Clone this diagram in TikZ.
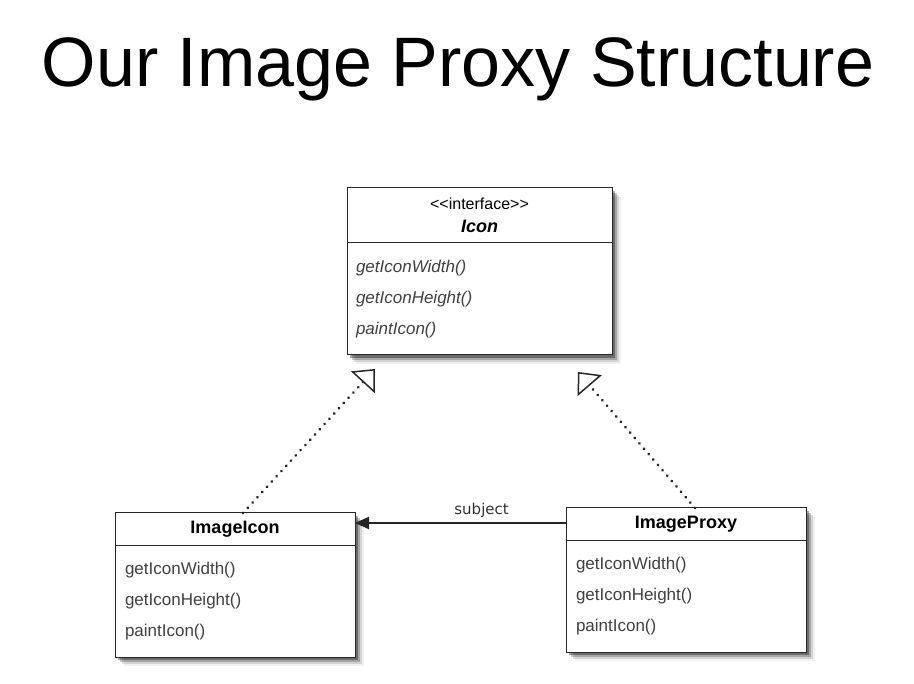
\documentclass[tikz,border=0pt]{standalone}
\usepackage{fontspec}
\setmainfont{Liberation Sans}
\newfontfamily\labelfont{DejaVu Sans}
\usetikzlibrary{positioning,arrows.meta,shadows}

\begin{document}
\begin{tikzpicture}[x=1pt,y=-1pt,
  every node/.style={font=\fontsize{17}{31}\selectfont},
  classhead/.style={draw=black!85,line width=1pt,fill=white,align=center,outer sep=0pt,inner sep=0pt,
    minimum width=240pt,minimum height=33pt,
    drop shadow={shadow xshift=9pt,shadow yshift=-9pt,fill=black,opacity=0.06},
    drop shadow={shadow xshift=7pt,shadow yshift=-7pt,fill=black,opacity=0.12},
    drop shadow={shadow xshift=5pt,shadow yshift=-5pt,fill=black,opacity=0.22},
    drop shadow={shadow xshift=3pt,shadow yshift=-3pt,fill=black,opacity=0.35}},
  classops/.style={classhead,align=left,text width=220pt,inner xsep=10pt,minimum height=111pt,text=black!75},
  assoc/.style={-{Triangle[length=14pt,width=12pt]},line width=2pt,black!85},
  realize/.style={-{Triangle[open,length=18pt,width=32pt,line width=1.5pt]},line width=3pt,
    dash pattern=on 0.1pt off 7pt,line cap=round,black!85}
]
  \useasboundingbox (0,0) rectangle (914,684);
  \node[anchor=base,font=\fontsize{70}{80}\selectfont] (title) at (458,87) {Our Image Proxy Structure};

  % the interface
  \node[classhead,minimum width=265pt,minimum height=55pt,font=\fontsize{16}{23}\selectfont] (icon) at (479.5,215.5)
    {<\kern0pt<interface>\kern0pt>\\ \bfseries\itshape\fontsize{18}{23}\selectfont Icon};
  \node[classops,text width=247pt,inner xsep=9pt,minimum height=112pt,font=\itshape\fontsize{17}{31}\selectfont,below=0pt of icon] (iconops)
    {getIconWidth()\\getIconHeight()\\paintIcon()};

  % the two classes
  \node[classhead,font=\bfseries\fontsize{18}{22}\selectfont] (imgicon) at (235,529.5) {ImageIcon};
  \node[classops,below=0pt of imgicon] (imgiconops) {getIconWidth()\\getIconHeight()\\paintIcon()};
  \node[classhead,font=\bfseries\fontsize{18}{22}\selectfont] (proxy) at (686,524.5) {ImageProxy};
  \node[classops,below=0pt of proxy] (proxyops) {getIconWidth()\\getIconHeight()\\paintIcon()};

  \coordinate (tipL) at ([xshift=28pt,yshift=-14pt]iconops.south west);
  \coordinate (tipR) at ([xshift=-34pt,yshift=-17pt]iconops.south east);
  \draw[realize] ([xshift=8pt]imgicon.north) -- (tipL);
  \draw[realize] ([xshift=9pt]proxy.north) -- (tipR);
  \draw[assoc] ([yshift=1.5pt]proxy.west) -- ([yshift=1.5pt]proxy.west -| imgicon.east)
    node[pos=0.4,above=1pt,font=\labelfont\fontsize{15}{18}\selectfont,text=black!80] (subj) {subject};
\end{tikzpicture}
\end{document}
